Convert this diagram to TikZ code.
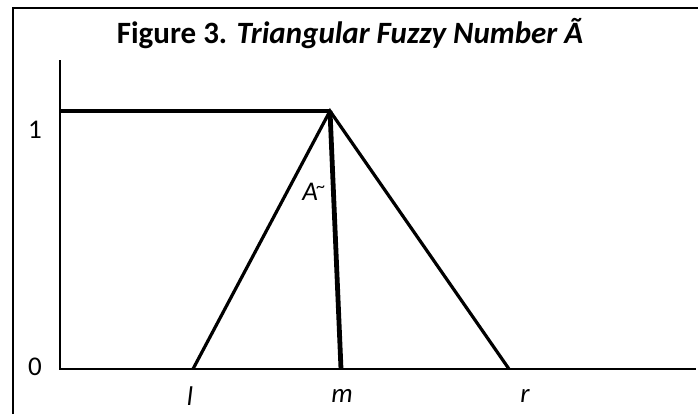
\documentclass[tikz,border=0pt]{standalone}
\usepackage{fontspec}
\setmainfont{Carlito}
\usetikzlibrary{positioning}
\usetikzlibrary{calc}

\begin{document}
\begin{tikzpicture}[
    x=0.5pt, y=-0.5pt,
    frame/.style={draw, line width=1pt},
    axis/.style={draw, line width=1.2pt},
    leg/.style={draw, line width=1.6pt},
    apex/.style={draw, line width=2.4pt},
    ticklabel/.style={
        inner sep=0pt,
        font=\fontsize{13.5}{16}\selectfont
    },
    title/.style={
        inner sep=0pt,
        font=\fontsize{15.5}{18}\selectfont\bfseries
    }
]
\useasboundingbox (0,0) rectangle (698,414);

% frame and axes
\coordinate (framefoot) at (13,414);
\coordinate (frameend) at (698,8);
\coordinate (origin) at (60,369);
\coordinate (ytop) at (60,60);
\coordinate (xend) at (696,369);
\coordinate (one) at (60,111);

% triangle
\coordinate (peak) at (330,111);
\coordinate (lfoot) at (193,369);
\coordinate (mfoot) at (341,369);
\coordinate (rfoot) at (509,369);

\draw[frame] (framefoot) |- (frameend);
\draw[axis] (ytop) -- (origin) -- (xend);
\draw[leg] (one) -- (peak);
\draw[leg] (lfoot) -- (peak) -- (rfoot);
\draw[apex] (peak) -- (mfoot);

\node[title] (caption) at (350,34) {Figure 3. \textit{Triangular Fuzzy Number Ã}};
\node[ticklabel] (lblone) at (35,130) {1};
\node[ticklabel] (lblzero) at (35,367) {0};
\node[ticklabel] (lbll) at (190,396) {\textit{l}};
\node[ticklabel] (lblm) at (342,396) {\textit{m}};
\node[ticklabel] (lblr) at (525,396) {\textit{r}};
\node[ticklabel] (lbla) at (314,192) {\textit{A\kern-0.05em\raisebox{0.3em}{\small\textasciitilde}}};

\end{tikzpicture}
\end{document}
